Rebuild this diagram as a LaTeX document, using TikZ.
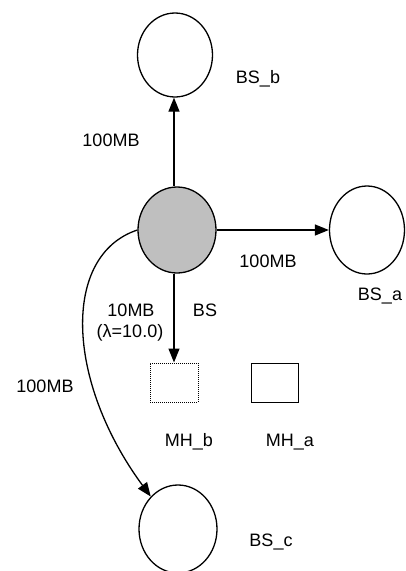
\documentclass[tikz,border=0pt]{standalone}
\usepackage{fontspec}
\setmainfont{Liberation Sans}
\usetikzlibrary{shapes.geometric,arrows.meta}
\begin{document}
\begin{tikzpicture}[x=1pt,y=-1pt,
  line width=1.3pt,
  station/.style={draw,ellipse,inner sep=0pt},
  hostbox/.style={draw,rectangle,inner sep=0pt,minimum width=48pt,minimum height=39pt},
  lbl/.style={anchor=base,inner sep=0pt,font=\fontsize{18}{21}\selectfont},
  arr/.style={-{Triangle[length=14pt,width=11pt]}}]
\useasboundingbox (0,0) rectangle (406,571);
% stations
\node[station,minimum width=75pt,minimum height=84pt] (BSb) at (175,55) {};
\node[station,fill=gray!50,minimum width=78pt,minimum height=86pt] (BS) at (177,230) {};
\node[station,minimum width=75pt,minimum height=88pt] (BSa) at (367,230) {};
\node[station,minimum width=78pt,minimum height=88pt] (BSc) at (178,529) {};
% hosts
\node[hostbox,densely dotted,line width=1pt] (MHb) at (174,382.5) {};
\node[hostbox,line width=1pt,minimum width=47pt] (MHa) at (274.5,382.5) {};
% connectors
\draw[arr] (BS.north -| MHb.north) -- (BSb.south -| MHb.north);
\draw[arr] (BS.east) -- (BSa.west);
\draw[arr] (BS.south -| MHb.north) -- (MHb.north);
\draw[arr] (BS.west) .. controls (62,255) and (65,380) .. (BSc.130);
% labels
\node[lbl] (t1) at (111,146) {100MB};
\node[lbl] (t2) at (258,83) {BS\_b};
\node[lbl] (t3) at (268,267) {100MB};
\node[lbl] (t4) at (380,300) {BS\_a};
\node[lbl] (t5) at (131,316) {10MB};
\node[lbl] (t6) at (205,316) {BS};
\node[lbl] (t7) at (130,337) {(λ=10.0)};
\node[lbl] (t8) at (45,392) {100MB};
\node[lbl] (t9) at (189,446) {MH\_b};
\node[lbl] (t10) at (290,446) {MH\_a};
\node[lbl] (t11) at (271,546) {BS\_c};
\end{tikzpicture}
\end{document}
